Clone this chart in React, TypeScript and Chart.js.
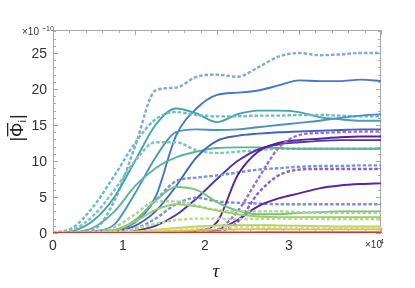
import React, { useEffect, useRef } from "react";
import { Chart, registerables } from "chart.js";

Chart.register(...registerables);

// tau in units of 10^4
const TAU = [0, 0.25, 0.5, 0.75, 1, 1.25, 1.5, 1.75, 2, 2.25, 2.5, 2.75, 3, 3.25, 3.5, 3.75, 4];
const X_TICKS = [0, 1, 2, 3];
const X_TICK_LABELS = ["0", "1", "2", "3"];
const Y_TICKS = [0, 5, 10, 15, 20, 25];
const Y_TICK_LABELS = ["0", "5", "10", "15", "20", "25"];

// |Phi_i| in units of 10^-10
const RED = [0, 0, 0, 0, 0, 0, 0, 0, 0, 0, 0, 0, 0, 0, 0, 0, 0];
const ORANGE = [0, 0, 0, 0, 0.02, 0.04, 0.06, 0.08, 0.1, 0.12, 0.13, 0.14, 0.15, 0.15, 0.15, 0.15, 0.15];
const ORANGE_D = [0, 0, 0, 0, 0.01, 0.02, 0.03, 0.04, 0.05, 0.06, 0.07, 0.08, 0.08, 0.08, 0.08, 0.08, 0.08];
const YELLOW = [0, 0, 0, 0.02, 0.08, 0.18, 0.3, 0.4, 0.47, 0.5, 0.52, 0.52, 0.5, 0.5, 0.5, 0.5, 0.5];
const YG_DOTTED = [0, 0, 0, 0.03, 0.15, 0.35, 0.55, 0.7, 0.8, 0.82, 0.82, 0.8, 0.78, 0.75, 0.72, 0.7, 0.7];
const YG_SOLID = [0, 0, 0, 0.05, 0.2, 0.45, 0.7, 0.9, 1.05, 1.1, 1.1, 1.05, 1.0, 0.95, 0.9, 0.9, 0.9];
const LG_DOTTED = [0, 0, 0.02, 0.15, 0.6, 1.3, 1.8, 2.0, 2.0, 1.95, 1.95, 2.0, 2.0, 1.95, 1.9, 1.9, 1.9];
const LG_SOLID = [0, 0, 0.05, 0.4, 1.6, 3.2, 4.0, 3.7, 3.1, 2.6, 2.3, 2.2, 2.2, 2.2, 2.2, 2.2, 2.2];
const GREEN_DOTTED = [0, 0, 0.1, 0.8, 2.6, 4.4, 4.4, 3.8, 3.2, 3.0, 3.0, 3.0, 2.9, 2.8, 2.8, 2.8, 2.8];
const GREEN_SOLID = [0, 0, 0, 0.3, 1.8, 4.5, 6.4, 6.0, 4.3, 3.1, 2.6, 2.6, 2.8, 2.9, 3.0, 3.0, 3.0];
const GREENTEAL_SOLID = [0, 0.1, 0.8, 3, 6.5, 9, 10.5, 11.3, 11.8, 11.9, 11.9, 11.8, 11.7, 11.7, 11.7, 11.7, 11.7];
const GREENTEAL_DOTTED = [0, 0.5, 2.5, 6, 10, 12.6, 12.6, 11.5, 11.1, 11.3, 11.5, 11.7, 11.7, 11.7, 11.7, 11.7, 11.7];
const TEAL_SOLID = [0, 0.3, 1.8, 5, 10, 15, 17.3, 16.6, 15.4, 16.5, 17, 17, 16.8, 16.1, 15.8, 15.6, 15.6];
const TEAL_DOTTED = [0, 0.8, 3.8, 8, 12.5, 15.8, 16.8, 16.4, 16.2, 16.2, 16.3, 16.3, 16.4, 16.4, 16.3, 16.2, 16.2];
const BLUETEAL_SOLID = [0, 0, 0.2, 1.2, 5.5, 10.5, 14, 14.4, 14.3, 14.4, 14.7, 15, 15.3, 15.6, 16, 16.3, 16.5];
const LIGHTBLUE_DOTTED = [0, 0.1, 0.5, 4.5, 12, 19.8, 20.2, 21.7, 22, 21.7, 23, 24.5, 25, 24.7, 24.8, 25, 25];
const BLUE_SOLID = [0, 0, 0.1, 0.4, 1.5, 5, 13.5, 17.3, 19.2, 19.5, 19.8, 20.5, 21.2, 21.1, 21.1, 21.3, 21.1];
const BLUE_SOLID2 = [0, 0, 0, 0.2, 1, 3, 6.5, 10.5, 12.8, 13.5, 13.8, 14, 14.1, 14.2, 14.3, 14.4, 14.4];
const INDIGO_SOLID = [0, 0, 0, 0, 0.3, 1, 2.5, 4.8, 7.5, 10, 11.6, 12.3, 12.6, 12.8, 12.9, 12.9, 12.9];
const BLUE_DOTTED = [0, 0, 0, 0.3, 1.5, 4.5, 7.2, 7.7, 8, 8.4, 8.8, 9, 9.2, 9.3, 9.3, 9.4, 9.4];
const BLUE_DOTTED2 = [0, 0, 0, 0.1, 0.6, 2, 4, 4.9, 4.4, 4.2, 4.1, 4, 4, 4, 4, 4, 4];
const PURPLE_SOLID = [0, 0, 0, 0, 0, 0, 0, 0.3, 1.5, 8, 11.3, 12.5, 12.9, 13.1, 13.3, 13.4, 13.4];
const PURPLE_DOTTED = [0, 0, 0, 0, 0, 0, 0, 0.1, 0.5, 3, 7.5, 11.8, 13.6, 13.9, 14, 14.1, 14.1];
const PURPLE_DOTTED2 = [0, 0, 0, 0, 0, 0, 0, 0.05, 0.2, 1.5, 5.5, 8, 8.8, 8.9, 8.9, 8.9, 8.9];
const PURPLE_SOLID2 = [0, 0, 0, 0, 0, 0, 0, 0, 0.4, 1.8, 3.7, 4.8, 5.5, 6.2, 6.6, 6.8, 6.9];

const SERIES = [
  { data: RED, color: "#d2382a", dotted: false },
  { data: ORANGE, color: "#e58c2e", dotted: false },
  { data: ORANGE_D, color: "#eaa94a", dotted: true },
  { data: YELLOW, color: "#d8c445", dotted: false },
  { data: YG_DOTTED, color: "#cfe09a", dotted: true },
  { data: YG_SOLID, color: "#b5d25c", dotted: false },
  { data: LG_DOTTED, color: "#b9d98a", dotted: true },
  { data: LG_SOLID, color: "#9ccb6a", dotted: false },
  { data: GREEN_DOTTED, color: "#a5d59a", dotted: true },
  { data: GREEN_SOLID, color: "#78c07b", dotted: false },
  { data: PURPLE_SOLID2, color: "#5a22a6", dotted: false },
  { data: PURPLE_DOTTED2, color: "#8b62c4", dotted: true },
  { data: PURPLE_DOTTED, color: "#9a70cc", dotted: true },
  { data: PURPLE_SOLID, color: "#5c1e9c", dotted: false },
  { data: BLUE_DOTTED2, color: "#7891dc", dotted: true },
  { data: BLUE_DOTTED, color: "#7891dc", dotted: true },
  { data: INDIGO_SOLID, color: "#4a38b0", dotted: false },
  { data: BLUE_SOLID2, color: "#3e62c8", dotted: false },
  { data: GREENTEAL_SOLID, color: "#5bb497", dotted: false },
  { data: GREENTEAL_DOTTED, color: "#7cc5b5", dotted: true },
  { data: BLUETEAL_SOLID, color: "#4a92c6", dotted: false },
  { data: TEAL_DOTTED, color: "#6bbcc6", dotted: true },
  { data: TEAL_SOLID, color: "#44a3ad", dotted: false },
  { data: BLUE_SOLID, color: "#4577cf", dotted: false },
  { data: LIGHTBLUE_DOTTED, color: "#7ea8e0", dotted: true },
];

const SANS = '"Liberation Sans", Arial, sans-serif';
const SERIF = '"Liberation Serif", "Times New Roman", serif';
const X_LABEL_SHIFT = [0, -12, -12, -10];

const framePlugin = {
  id: "mmaFrame",
  beforeDatasetsDraw(chart: any) {
    const { ctx, chartArea: a, scales } = chart;
    const xs = scales.x;
    const ys = scales.y;
    ctx.save();
    ctx.strokeStyle = "#a8a8a8";
    ctx.lineWidth = 1;
    ctx.strokeRect(Math.round(a.left) + 0.5, Math.round(a.top) + 0.5, Math.round(a.right - a.left) - 1, Math.round(a.bottom - a.top) - 1);
    ctx.beginPath();
    for (let k = 0; k <= 20; k++) {
      const v = k * 0.2;
      const px = Math.round(xs.getPixelForValue(v)) + 0.5;
      const len = k % 5 === 0 ? 5 : 3;
      ctx.moveTo(px, a.bottom);
      ctx.lineTo(px, a.bottom - len);
      ctx.moveTo(px, a.top);
      ctx.lineTo(px, a.top + len);
    }
    for (let v = 0; v <= 28; v++) {
      const py = Math.round(ys.getPixelForValue(v)) + 0.5;
      const len = v % 5 === 0 ? 5 : 3;
      ctx.moveTo(a.left, py);
      ctx.lineTo(a.left + len, py);
      ctx.moveTo(a.right, py);
      ctx.lineTo(a.right - len, py);
    }
    ctx.stroke();
    ctx.restore();
  },
  afterDraw(chart: any) {
    const { ctx, chartArea: a, scales } = chart;
    const xs = scales.x;
    const ys = scales.y;
    ctx.save();
    ctx.fillStyle = "#333";
    ctx.font = `14px ${SANS}`;
    ctx.textAlign = "right";
    ctx.textBaseline = "alphabetic";
    Y_TICKS.forEach((v, i) => {
      ctx.fillText(Y_TICK_LABELS[i], a.left - 6, ys.getPixelForValue(v) + 5);
    });
    ctx.textAlign = "center";
    X_TICKS.forEach((v, i) => {
      ctx.fillText(X_TICK_LABELS[i], xs.getPixelForValue(v) + X_LABEL_SHIFT[i], a.bottom + 17);
    });
    // exponent labels
    ctx.font = `10px ${SANS}`;
    ctx.textAlign = "left";
    ctx.fillText("\u00d710", 22, a.top + 5);
    ctx.font = `7px ${SANS}`;
    ctx.fillText("\u221210", 42, a.top + 1);
    ctx.font = `10px ${SANS}`;
    ctx.fillText("\u00d710", 365, a.bottom + 15);
    ctx.font = `7px ${SANS}`;
    ctx.fillText("4", 380, a.bottom + 11);
    // x title
    ctx.font = `italic 19px ${SERIF}`;
    ctx.textAlign = "center";
    ctx.fillStyle = "#222";
    ctx.fillText("\u03c4", 216, 277);
    // y title |Phi_i| rotated
    ctx.translate(17, 128);
    ctx.rotate(-Math.PI / 2);
    ctx.textAlign = "left";
    ctx.font = `18px ${SANS}`;
    const wBar = ctx.measureText("|").width;
    const wPhi = ctx.measureText("\u03a6").width;
    ctx.font = `11px ${SANS}`;
    const wI = ctx.measureText("i").width;
    const total = wBar * 2 + wPhi + wI + 1;
    let x = -total / 2;
    const base = 6;
    ctx.font = `18px ${SANS}`;
    ctx.fillText("|", x, base);
    x += wBar;
    ctx.fillText("\u03a6", x, base);
    ctx.fillRect(x + 0.5, base - 16, wPhi - 1, 1.3);
    x += wPhi;
    ctx.font = `11px ${SANS}`;
    ctx.fillText("i", x, base + 3);
    x += wI + 1;
    ctx.font = `18px ${SANS}`;
    ctx.fillText("|", x, base);
    ctx.restore();
  },
};

export default function App() {
  const ref = useRef<HTMLCanvasElement | null>(null);
  useEffect(() => {
    document.body.style.margin = "0";
    const canvas = ref.current;
    if (!canvas) return;
    const chart = new Chart(canvas, {
      type: "line",
      data: {
        datasets: SERIES.map((s) => ({
          data: TAU.map((t, i) => ({ x: t, y: s.data[i] })),
          borderColor: s.color,
          backgroundColor: s.color,
          borderWidth: s.dotted ? 2.4 : 1.9,
          borderDash: s.dotted ? [3.5, 2] : [],
          fill: false,
          pointRadius: 0,
          cubicInterpolationMode: "monotone" as const,
        })),
      },
      options: {
        responsive: false,
        animation: false,
        layout: { padding: { left: 53, right: 34, top: 30, bottom: 55 } },
        plugins: { legend: { display: false }, tooltip: { enabled: false } },
        scales: {
          x: { type: "linear", min: 0, max: 4, display: false },
          y: { type: "linear", min: 0, max: 28.2, display: false },
        },
      },
      plugins: [framePlugin],
    });
    return () => chart.destroy();
  }, []);
  return <canvas ref={ref} width={415} height={288} style={{ display: "block" }} />;
}
